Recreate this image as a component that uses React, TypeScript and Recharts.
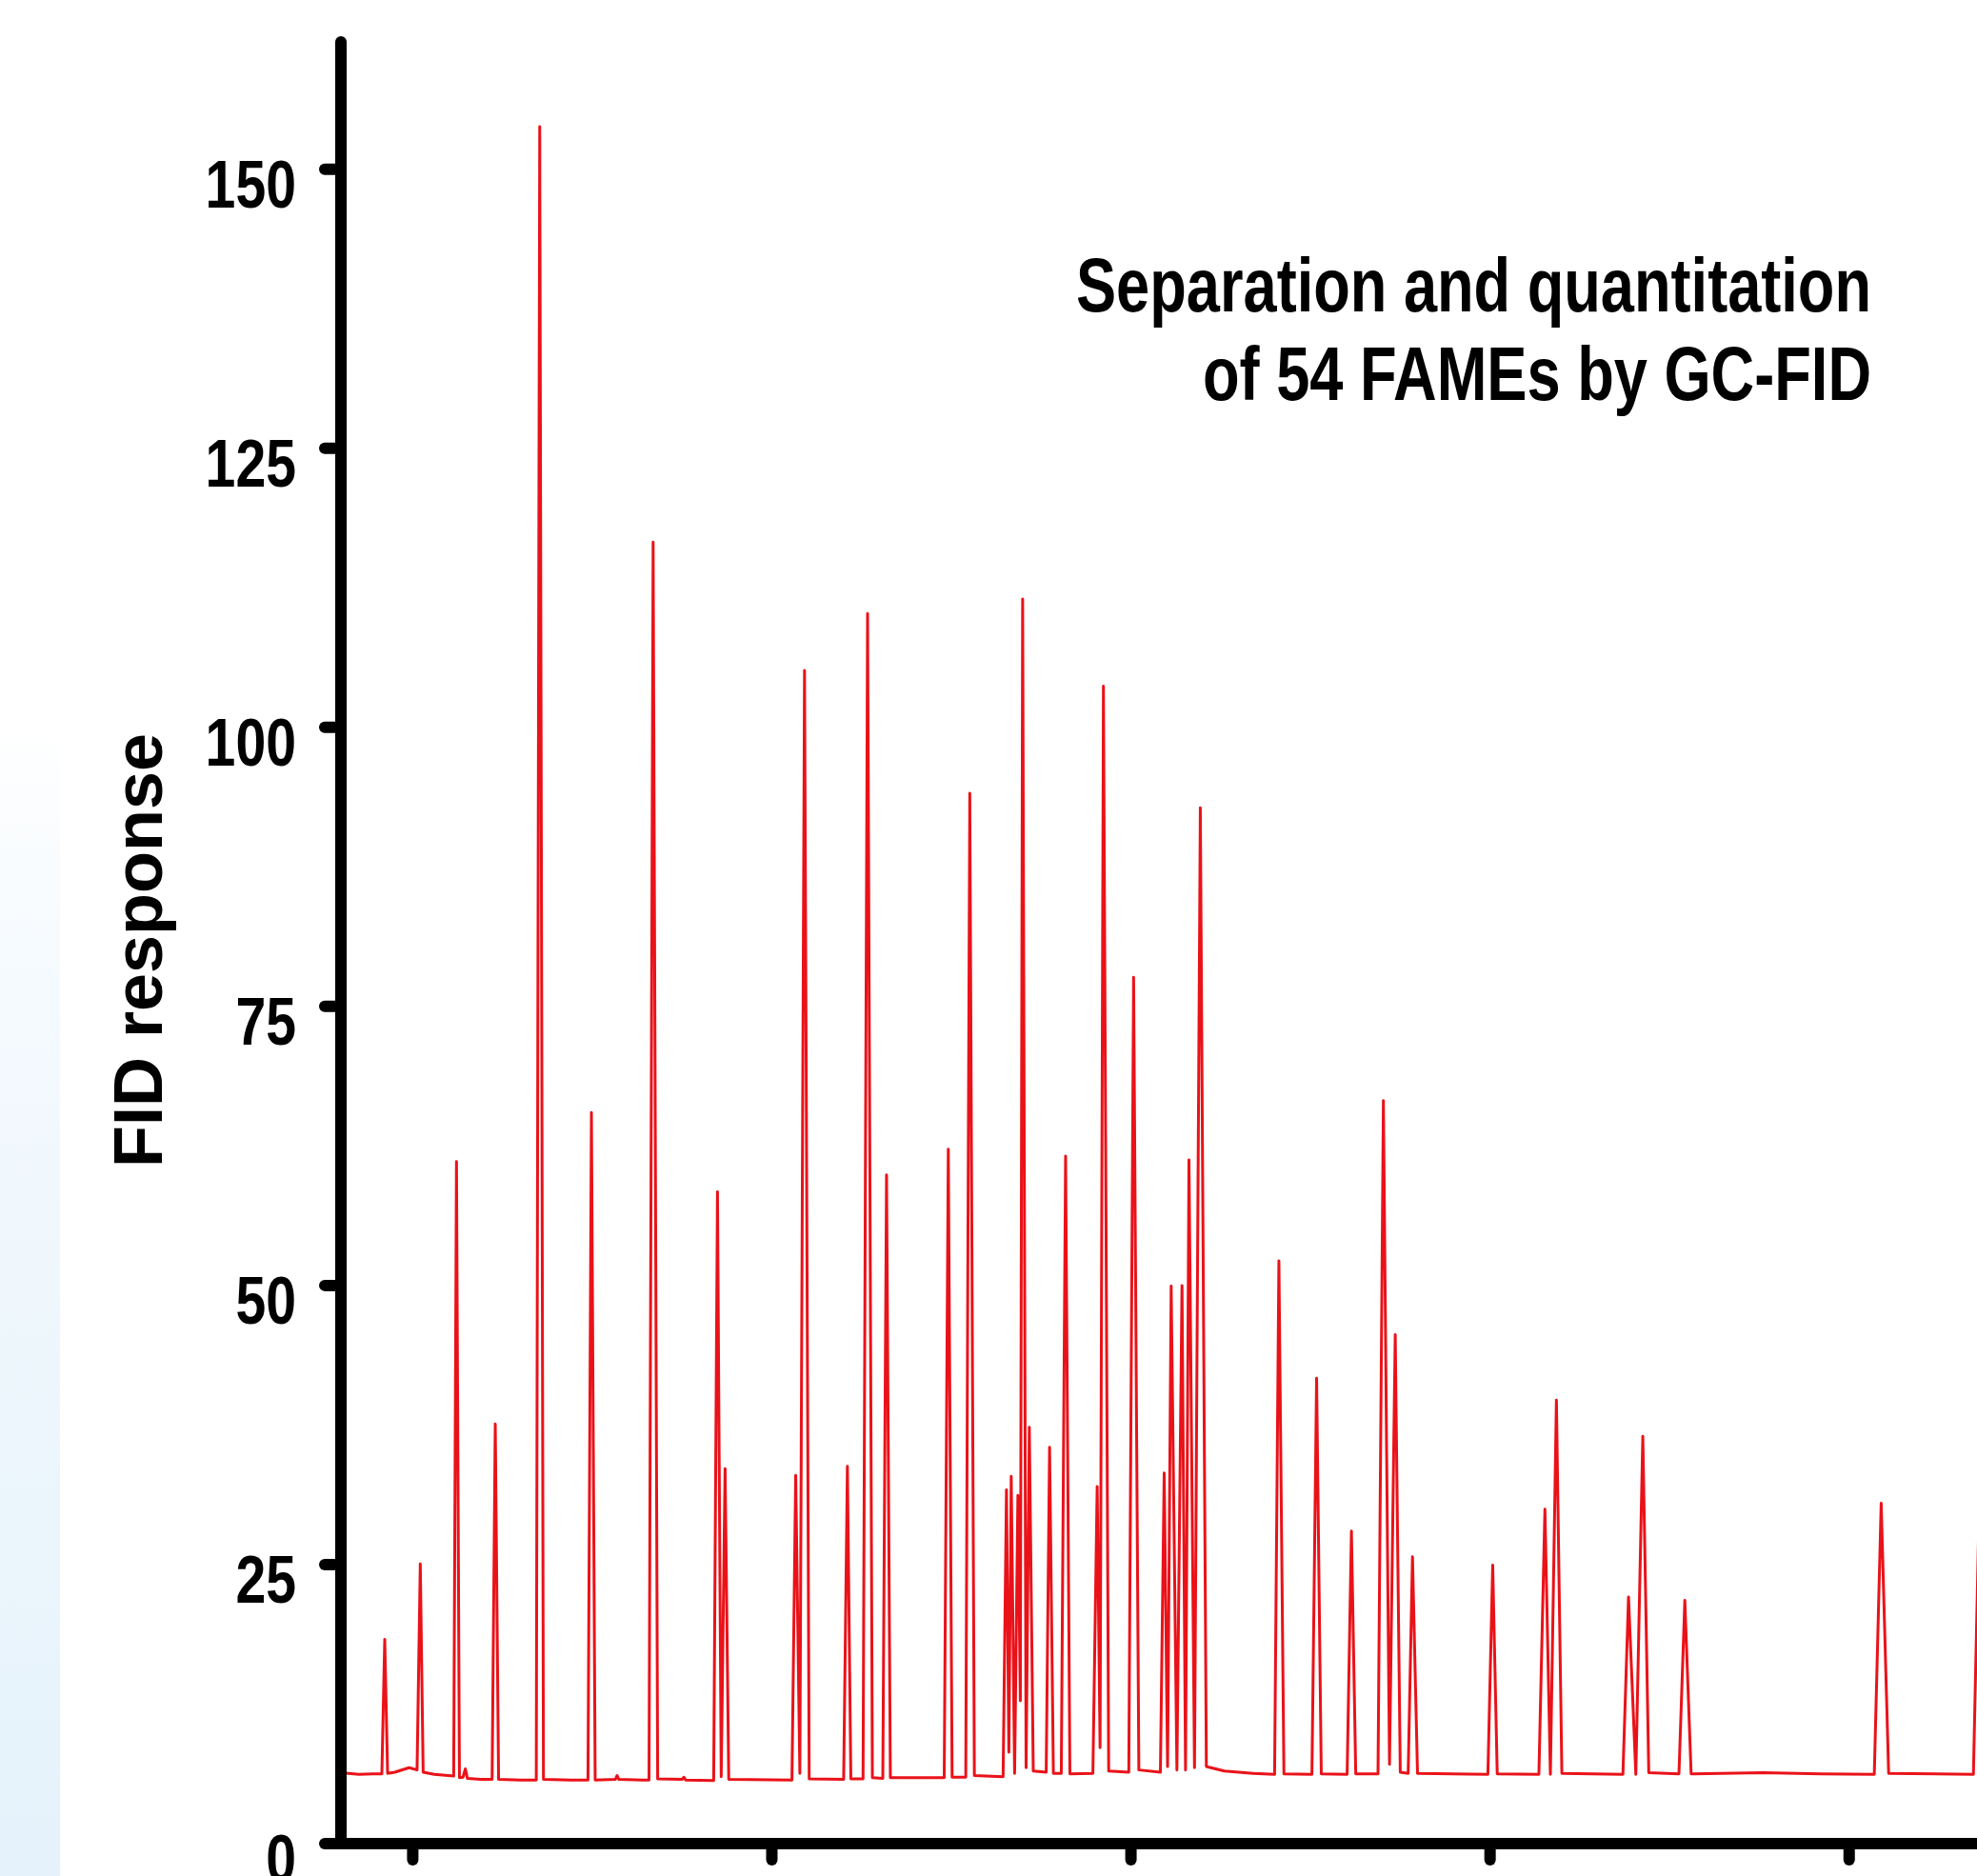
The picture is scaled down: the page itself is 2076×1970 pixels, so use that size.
import React from 'react';
import { LineChart, Line, XAxis, YAxis } from 'recharts';

// Chromatogram trace: [retention time (min), FID response]
const tracePoints: [number, number][] = [
  [4.0, 6.35], [4.25, 6.2], [4.45, 6.25],
  [4.57, 6.25], [4.61, 18.3], [4.65, 6.3],
  [4.75, 6.4], [4.95, 6.8],
  [5.06, 6.6], [5.105, 25.05], [5.145, 6.4],
  [5.3, 6.2],
  [5.57, 6.05], [5.609, 61.1], [5.65, 5.9],
  [5.7, 5.95], [5.733, 6.7], [5.76, 5.85],
  [5.95, 5.75],
  [6.105, 5.75], [6.149, 37.6], [6.195, 5.75],
  [6.5, 5.7],
  [6.72, 5.7], [6.768, 153.8], [6.82, 5.75],
  [7.2, 5.7],
  [7.44, 5.7], [7.488, 65.5], [7.54, 5.7],
  [7.82, 5.75], [7.846, 6.1], [7.87, 5.75],
  [8.2, 5.7],
  [8.29, 5.7], [8.347, 116.6], [8.41, 5.8],
  [8.75, 5.75], [8.775, 5.95], [8.8, 5.7],
  [9.19, 5.65], [9.243, 58.4], [9.295, 6.0], [9.349, 33.6], [9.4, 5.75],
  [10.28, 5.7], [10.332, 33.0], [10.39, 6.3], [10.455, 105.1], [10.52, 5.8],
  [11.0, 5.75], [11.052, 33.8], [11.1, 5.8],
  [11.27, 5.8], [11.333, 110.2], [11.4, 5.9],
  [11.545, 5.85], [11.597, 59.9], [11.65, 5.9],
  [12.4, 5.9], [12.457, 62.2], [12.51, 5.95],
  [12.7, 5.95], [12.756, 94.1], [12.82, 6.1],
  [13.22, 6.0], [13.267, 31.7], [13.3, 8.2], [13.333, 32.9], [13.38, 6.3],
  [13.426, 31.2], [13.46, 12.8], [13.492, 111.5], [13.54, 6.8], [13.585, 37.3], [13.64, 6.5],
  [13.82, 6.4], [13.867, 35.5], [13.92, 6.3],
  [14.03, 6.3], [14.09, 61.6], [14.15, 6.25],
  [14.47, 6.3], [14.53, 32.0], [14.57, 8.6], [14.617, 103.7], [14.69, 6.5],
  [14.97, 6.4], [15.037, 77.6], [15.11, 6.6],
  [15.41, 6.4], [15.463, 33.2], [15.51, 6.9], [15.56, 49.95], [15.64, 6.6],
  [15.711, 50.0], [15.76, 6.6], [15.808, 61.25], [15.885, 6.8], [15.966, 92.8], [16.05, 6.9],
  [16.3, 6.5], [16.7, 6.3],
  [17.0, 6.2], [17.06, 52.2], [17.13, 6.25],
  [17.52, 6.2], [17.585, 41.7], [17.65, 6.25],
  [18.01, 6.2], [18.07, 28.0], [18.13, 6.25],
  [18.44, 6.25], [18.515, 66.55], [18.6, 7.1], [18.68, 45.6], [18.75, 6.4],
  [18.86, 6.3], [18.92, 25.7], [18.99, 6.3],
  [19.97, 6.2], [20.037, 24.95], [20.1, 6.25],
  [20.68, 6.2], [20.764, 29.97], [20.84, 6.2], [20.924, 39.73], [21.0, 6.3],
  [21.85, 6.2], [21.928, 22.1], [22.03, 6.2], [22.127, 36.5], [22.21, 6.35],
  [22.63, 6.25], [22.712, 21.8], [22.8, 6.25],
  [23.8, 6.35], [24.6, 6.25],
  [25.35, 6.2], [25.446, 30.5], [25.55, 6.3],
  [26.73, 6.2], [26.86, 45.0], [27.0, 6.2], [28.0, 6.2],
];

const yTicks = [0, 25, 50, 75, 100, 125, 150];
const xTicks = [5, 10, 15, 20, 25];
const titleLines = ['Separation and quantitation', 'of 54 FAMEs by GC-FID'];
const yAxisTitle = 'FID response';

const data = tracePoints.map(([t, r]) => ({ t, r }));

const NARROW = "'Liberation Sans Narrow', 'Arial Narrow', 'Liberation Sans', Arial, sans-serif";
const SANS = "'Liberation Sans', Arial, Helvetica, sans-serif";

const axisStyle: any = { stroke: '#000', strokeWidth: 12, strokeLinecap: 'round' };

function YTickLabel(props: any) {
  const { x, y, payload } = props;
  const s = String(payload.value);
  return (
    <text
      x={x}
      y={y + 40}
      textAnchor="end"
      fontFamily={NARROW}
      fontWeight={700}
      fontSize={70}
      fill="#000"
      textLength={31.8 * s.length}
      lengthAdjust="spacingAndGlyphs"
    >
      {s}
    </text>
  );
}

function NoLabel() {
  return <g />;
}

export default function App() {
  return (
    <div
      style={{
        position: 'absolute',
        left: 0,
        top: 0,
        width: 2076,
        height: 1970,
        overflow: 'hidden',
        background: '#ffffff',
      }}
    >
      <div
        style={{
          position: 'absolute',
          left: 0,
          top: 0,
          width: 63,
          height: 1970,
          background:
            'linear-gradient(to bottom, #ffffff 0%, #ffffff 38%, #f5fafe 52%, #ecf6fc 76%, #e5f2fb 100%)',
        }}
      />
      <div style={{ position: 'absolute', left: 0, top: 0 }}>
        <LineChart
          width={2180}
          height={1970}
          data={data}
          margin={{ top: 44, right: 12, left: 0, bottom: 0 }}
        >
          <XAxis
            dataKey="t"
            type="number"
            domain={[4, 28]}
            ticks={xTicks}
            interval={0}
            height={34}
            axisLine={axisStyle}
            tickLine={axisStyle}
            tickSize={17}
            tick={NoLabel}
          />
          <YAxis
            type="number"
            domain={[0, 161.4]}
            ticks={yTicks}
            interval={0}
            width={358}
            axisLine={axisStyle}
            tickLine={axisStyle}
            tickSize={17}
            tickMargin={30}
            tick={YTickLabel}
          />
          <Line
            type="linear"
            dataKey="r"
            stroke="#ea1219"
            strokeWidth={3}
            strokeLinejoin="round"
            dot={false}
            activeDot={false}
            isAnimationActive={false}
          />
        </LineChart>
      </div>
      <svg
        width={2076}
        height={1970}
        style={{ position: 'absolute', left: 0, top: 0, pointerEvents: 'none' }}
      >
        <text
          x={1965}
          y={327}
          textAnchor="end"
          fontFamily={NARROW}
          fontWeight={700}
          fontSize={80}
          fill="#000"
          textLength={835}
          lengthAdjust="spacingAndGlyphs"
        >
          {titleLines[0]}
        </text>
        <text
          x={1965}
          y={420}
          textAnchor="end"
          fontFamily={NARROW}
          fontWeight={700}
          fontSize={80}
          fill="#000"
          textLength={702}
          lengthAdjust="spacingAndGlyphs"
        >
          {titleLines[1]}
        </text>
        <text
          x={170}
          y={998}
          transform="rotate(-90 170 998)"
          textAnchor="middle"
          fontFamily={SANS}
          fontWeight={700}
          fontSize={72}
          fill="#000"
        >
          {yAxisTitle}
        </text>
      </svg>
    </div>
  );
}
